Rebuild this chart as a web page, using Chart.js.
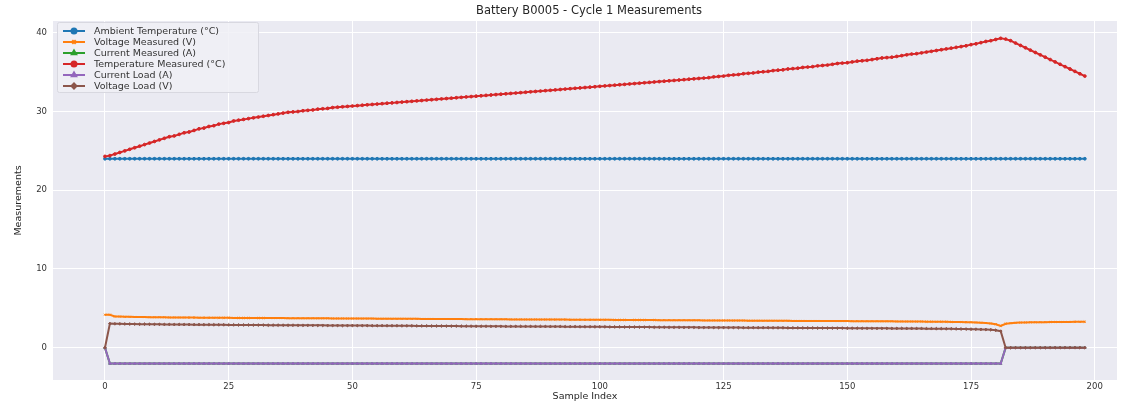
<!DOCTYPE html>
<html>
<head>
<meta charset="utf-8">
<script src="https://cdn.jsdelivr.net/npm/chart.js@4/dist/chart.umd.min.js"></script>
<style>
  html, body { margin: 0; padding: 0; background: #ffffff; }
  #wrap { width: 1130px; height: 402px; }
</style>
</head>
<body>
<div id="wrap"><canvas id="batteryChart" width="1130" height="402"></canvas></div>
<script>
const chartTitle = "Battery B0005 - Cycle 1 Measurements";
const seriesNames = [
  "Ambient Temperature (°C)",
  "Voltage Measured (V)",
  "Current Measured (A)",
  "Temperature Measured (°C)",
  "Current Load (A)",
  "Voltage Load (V)"
];
const xTicks = [0, 25, 50, 75, 100, 125, 150, 175, 200];
const yTicks = [0, 10, 20, 30, 40];

const ambientTemperature = [
  24, 24, 24, 24, 24, 24, 24, 24, 24, 24,
  24, 24, 24, 24, 24, 24, 24, 24, 24, 24,
  24, 24, 24, 24, 24, 24, 24, 24, 24, 24,
  24, 24, 24, 24, 24, 24, 24, 24, 24, 24,
  24, 24, 24, 24, 24, 24, 24, 24, 24, 24,
  24, 24, 24, 24, 24, 24, 24, 24, 24, 24,
  24, 24, 24, 24, 24, 24, 24, 24, 24, 24,
  24, 24, 24, 24, 24, 24, 24, 24, 24, 24,
  24, 24, 24, 24, 24, 24, 24, 24, 24, 24,
  24, 24, 24, 24, 24, 24, 24, 24, 24, 24,
  24, 24, 24, 24, 24, 24, 24, 24, 24, 24,
  24, 24, 24, 24, 24, 24, 24, 24, 24, 24,
  24, 24, 24, 24, 24, 24, 24, 24, 24, 24,
  24, 24, 24, 24, 24, 24, 24, 24, 24, 24,
  24, 24, 24, 24, 24, 24, 24, 24, 24, 24,
  24, 24, 24, 24, 24, 24, 24, 24, 24, 24,
  24, 24, 24, 24, 24, 24, 24, 24, 24, 24,
  24, 24, 24, 24, 24, 24, 24, 24, 24, 24,
  24, 24, 24, 24, 24, 24, 24, 24, 24, 24,
  24, 24, 24, 24, 24, 24, 24, 24, 24
];

const voltageMeasured = [
  4.19, 4.19, 3.97, 3.95, 3.93, 3.92, 3.91, 3.90, 3.89, 3.88,
  3.87, 3.87, 3.86, 3.85, 3.85, 3.84, 3.84, 3.83, 3.83, 3.82,
  3.82, 3.81, 3.81, 3.80, 3.80, 3.80, 3.79, 3.79, 3.78, 3.78,
  3.78, 3.77, 3.77, 3.77, 3.76, 3.76, 3.76, 3.75, 3.75, 3.75,
  3.74, 3.74, 3.74, 3.73, 3.73, 3.73, 3.72, 3.72, 3.72, 3.71,
  3.71, 3.71, 3.70, 3.70, 3.70, 3.69, 3.69, 3.69, 3.68, 3.68,
  3.68, 3.67, 3.67, 3.67, 3.66, 3.66, 3.66, 3.65, 3.65, 3.65,
  3.64, 3.64, 3.64, 3.63, 3.63, 3.63, 3.62, 3.62, 3.62, 3.61,
  3.61, 3.61, 3.60, 3.60, 3.60, 3.59, 3.59, 3.59, 3.58, 3.58,
  3.58, 3.57, 3.57, 3.57, 3.56, 3.56, 3.56, 3.55, 3.55, 3.55,
  3.54, 3.54, 3.54, 3.53, 3.53, 3.53, 3.52, 3.52, 3.52, 3.51,
  3.51, 3.51, 3.50, 3.50, 3.50, 3.49, 3.49, 3.49, 3.48, 3.48,
  3.48, 3.47, 3.47, 3.47, 3.46, 3.46, 3.46, 3.45, 3.45, 3.45,
  3.44, 3.44, 3.44, 3.43, 3.43, 3.43, 3.42, 3.42, 3.42, 3.41,
  3.41, 3.41, 3.40, 3.40, 3.40, 3.39, 3.39, 3.39, 3.38, 3.38,
  3.38, 3.37, 3.37, 3.37, 3.36, 3.36, 3.36, 3.35, 3.35, 3.35,
  3.34, 3.34, 3.33, 3.33, 3.32, 3.32, 3.31, 3.31, 3.30, 3.30,
  3.29, 3.28, 3.27, 3.26, 3.25, 3.23, 3.21, 3.18, 3.14, 3.08,
  2.98, 2.78, 3.05, 3.12, 3.16, 3.19, 3.21, 3.22, 3.23, 3.24,
  3.25, 3.26, 3.27, 3.27, 3.28, 3.28, 3.29, 3.29, 3.30
];

const currentMeasured = [
  -0.004, -2.01, -2.01, -2.01, -2.01, -2.01, -2.01, -2.01, -2.01, -2.01,
  -2.01, -2.01, -2.01, -2.01, -2.01, -2.01, -2.01, -2.01, -2.01, -2.01,
  -2.01, -2.01, -2.01, -2.01, -2.01, -2.01, -2.01, -2.01, -2.01, -2.01,
  -2.01, -2.01, -2.01, -2.01, -2.01, -2.01, -2.01, -2.01, -2.01, -2.01,
  -2.01, -2.01, -2.01, -2.01, -2.01, -2.01, -2.01, -2.01, -2.01, -2.01,
  -2.01, -2.01, -2.01, -2.01, -2.01, -2.01, -2.01, -2.01, -2.01, -2.01,
  -2.01, -2.01, -2.01, -2.01, -2.01, -2.01, -2.01, -2.01, -2.01, -2.01,
  -2.01, -2.01, -2.01, -2.01, -2.01, -2.01, -2.01, -2.01, -2.01, -2.01,
  -2.01, -2.01, -2.01, -2.01, -2.01, -2.01, -2.01, -2.01, -2.01, -2.01,
  -2.01, -2.01, -2.01, -2.01, -2.01, -2.01, -2.01, -2.01, -2.01, -2.01,
  -2.01, -2.01, -2.01, -2.01, -2.01, -2.01, -2.01, -2.01, -2.01, -2.01,
  -2.01, -2.01, -2.01, -2.01, -2.01, -2.01, -2.01, -2.01, -2.01, -2.01,
  -2.01, -2.01, -2.01, -2.01, -2.01, -2.01, -2.01, -2.01, -2.01, -2.01,
  -2.01, -2.01, -2.01, -2.01, -2.01, -2.01, -2.01, -2.01, -2.01, -2.01,
  -2.01, -2.01, -2.01, -2.01, -2.01, -2.01, -2.01, -2.01, -2.01, -2.01,
  -2.01, -2.01, -2.01, -2.01, -2.01, -2.01, -2.01, -2.01, -2.01, -2.01,
  -2.01, -2.01, -2.01, -2.01, -2.01, -2.01, -2.01, -2.01, -2.01, -2.01,
  -2.01, -2.01, -2.01, -2.01, -2.01, -2.01, -2.01, -2.01, -2.01, -2.01,
  -2.01, -2.01, 0.001, 0.001, 0.001, 0.001, 0.001, 0.001, 0.001, 0.001,
  0.001, 0.001, 0.001, 0.001, 0.001, 0.001, 0.001, 0.001, 0.001
];

const temperatureMeasured = [
  24.3, 24.4, 24.6, 24.8, 25.0, 25.2, 25.4, 25.6, 25.8, 26.0,
  26.2, 26.4, 26.6, 26.8, 26.9, 27.1, 27.3, 27.4, 27.6, 27.8,
  27.9, 28.1, 28.2, 28.4, 28.5, 28.6, 28.8, 28.9, 29.0, 29.1,
  29.2, 29.3, 29.4, 29.5, 29.6, 29.7, 29.8, 29.9, 29.95, 30.0,
  30.1, 30.15, 30.2, 30.3, 30.35, 30.4, 30.5, 30.55, 30.6, 30.65,
  30.7, 30.75, 30.8, 30.85, 30.9, 30.95, 31.0, 31.05, 31.1, 31.15,
  31.2, 31.25, 31.3, 31.35, 31.4, 31.45, 31.5, 31.55, 31.6, 31.65,
  31.7, 31.75, 31.8, 31.85, 31.9, 31.95, 32.0, 32.05, 32.1, 32.15,
  32.2, 32.25, 32.3, 32.35, 32.4, 32.45, 32.5, 32.55, 32.6, 32.65,
  32.7, 32.75, 32.8, 32.85, 32.9, 32.95, 33.0, 33.05, 33.1, 33.15,
  33.2, 33.25, 33.3, 33.35, 33.4, 33.45, 33.5, 33.55, 33.6, 33.65,
  33.7, 33.75, 33.8, 33.85, 33.9, 33.95, 34.0, 34.05, 34.1, 34.15,
  34.2, 34.25, 34.3, 34.4, 34.45, 34.5, 34.6, 34.65, 34.7, 34.8,
  34.85, 34.9, 35.0, 35.05, 35.1, 35.2, 35.25, 35.3, 35.4, 35.45,
  35.5, 35.6, 35.65, 35.7, 35.8, 35.85, 35.9, 36.0, 36.1, 36.15,
  36.2, 36.3, 36.4, 36.45, 36.5, 36.6, 36.7, 36.8, 36.85, 36.9,
  37.0, 37.1, 37.2, 37.3, 37.35, 37.45, 37.55, 37.65, 37.75, 37.85,
  37.95, 38.05, 38.15, 38.25, 38.35, 38.5, 38.6, 38.75, 38.9, 39.0,
  39.15, 39.3, 39.2, 39.0, 38.7, 38.4, 38.1, 37.8, 37.5, 37.2,
  36.9, 36.6, 36.3, 36.0, 35.7, 35.4, 35.1, 34.8, 34.5
];

const currentLoad = [
  -0.001, -2.0, -2.0, -2.0, -2.0, -2.0, -2.0, -2.0, -2.0, -2.0,
  -2.0, -2.0, -2.0, -2.0, -2.0, -2.0, -2.0, -2.0, -2.0, -2.0,
  -2.0, -2.0, -2.0, -2.0, -2.0, -2.0, -2.0, -2.0, -2.0, -2.0,
  -2.0, -2.0, -2.0, -2.0, -2.0, -2.0, -2.0, -2.0, -2.0, -2.0,
  -2.0, -2.0, -2.0, -2.0, -2.0, -2.0, -2.0, -2.0, -2.0, -2.0,
  -2.0, -2.0, -2.0, -2.0, -2.0, -2.0, -2.0, -2.0, -2.0, -2.0,
  -2.0, -2.0, -2.0, -2.0, -2.0, -2.0, -2.0, -2.0, -2.0, -2.0,
  -2.0, -2.0, -2.0, -2.0, -2.0, -2.0, -2.0, -2.0, -2.0, -2.0,
  -2.0, -2.0, -2.0, -2.0, -2.0, -2.0, -2.0, -2.0, -2.0, -2.0,
  -2.0, -2.0, -2.0, -2.0, -2.0, -2.0, -2.0, -2.0, -2.0, -2.0,
  -2.0, -2.0, -2.0, -2.0, -2.0, -2.0, -2.0, -2.0, -2.0, -2.0,
  -2.0, -2.0, -2.0, -2.0, -2.0, -2.0, -2.0, -2.0, -2.0, -2.0,
  -2.0, -2.0, -2.0, -2.0, -2.0, -2.0, -2.0, -2.0, -2.0, -2.0,
  -2.0, -2.0, -2.0, -2.0, -2.0, -2.0, -2.0, -2.0, -2.0, -2.0,
  -2.0, -2.0, -2.0, -2.0, -2.0, -2.0, -2.0, -2.0, -2.0, -2.0,
  -2.0, -2.0, -2.0, -2.0, -2.0, -2.0, -2.0, -2.0, -2.0, -2.0,
  -2.0, -2.0, -2.0, -2.0, -2.0, -2.0, -2.0, -2.0, -2.0, -2.0,
  -2.0, -2.0, -2.0, -2.0, -2.0, -2.0, -2.0, -2.0, -2.0, -2.0,
  -2.0, -2.0, 0.001, 0.001, 0.001, 0.001, 0.001, 0.001, 0.001, 0.001,
  0.001, 0.001, 0.001, 0.001, 0.001, 0.001, 0.001, 0.001, 0.001
];

const voltageLoad = [
  0.00, 3.06, 3.04, 3.03, 3.02, 3.01, 3.00, 2.99, 2.99, 2.98,
  2.97, 2.97, 2.96, 2.96, 2.95, 2.95, 2.94, 2.94, 2.93, 2.93,
  2.92, 2.92, 2.91, 2.91, 2.91, 2.90, 2.90, 2.89, 2.89, 2.89,
  2.88, 2.88, 2.88, 2.87, 2.87, 2.87, 2.86, 2.86, 2.86, 2.85,
  2.85, 2.85, 2.84, 2.84, 2.84, 2.83, 2.83, 2.83, 2.82, 2.82,
  2.82, 2.81, 2.81, 2.81, 2.80, 2.80, 2.80, 2.79, 2.79, 2.79,
  2.78, 2.78, 2.78, 2.77, 2.77, 2.77, 2.76, 2.76, 2.76, 2.75,
  2.75, 2.75, 2.74, 2.74, 2.74, 2.73, 2.73, 2.73, 2.72, 2.72,
  2.72, 2.71, 2.71, 2.71, 2.70, 2.70, 2.70, 2.69, 2.69, 2.69,
  2.68, 2.68, 2.68, 2.67, 2.67, 2.67, 2.66, 2.66, 2.66, 2.65,
  2.65, 2.65, 2.64, 2.64, 2.64, 2.63, 2.63, 2.63, 2.62, 2.62,
  2.62, 2.61, 2.61, 2.61, 2.60, 2.60, 2.60, 2.59, 2.59, 2.59,
  2.58, 2.58, 2.58, 2.57, 2.57, 2.57, 2.56, 2.56, 2.56, 2.55,
  2.55, 2.55, 2.54, 2.54, 2.54, 2.53, 2.53, 2.53, 2.52, 2.52,
  2.52, 2.51, 2.51, 2.51, 2.50, 2.50, 2.50, 2.49, 2.49, 2.49,
  2.48, 2.48, 2.48, 2.47, 2.47, 2.47, 2.46, 2.46, 2.46, 2.45,
  2.45, 2.45, 2.44, 2.44, 2.43, 2.43, 2.42, 2.42, 2.41, 2.41,
  2.40, 2.40, 2.39, 2.38, 2.37, 2.36, 2.35, 2.33, 2.31, 2.28,
  2.22, 2.10, 0.00, 0.00, 0.00, 0.00, 0.00, 0.00, 0.00, 0.00,
  0.00, 0.00, 0.00, 0.00, 0.00, 0.00, 0.00, 0.00, 0.00
];

const sampleIndex = voltageMeasured.map((_, i) => i);

const seriesValues = [ambientTemperature, voltageMeasured, currentMeasured, temperatureMeasured, currentLoad, voltageLoad];
const seriesColors = ["#1f77b4", "#ff7f0e", "#2ca02c", "#d62728", "#9467bd", "#8c564b"];
const seriesMarkers = ["circle", "crossRot", "triangle", "circle", "triangle", "rectRot"];

// seaborn "darkgrid" look: grey plot area with white grid
const plotBackground = {
  id: "plotBackground",
  beforeDraw(chart) {
    const { ctx, chartArea } = chart;
    ctx.save();
    ctx.fillStyle = "#eaeaf2";
    ctx.fillRect(chartArea.left, chartArea.top, chartArea.right - chartArea.left, chartArea.bottom - chartArea.top);
    ctx.restore();
  }
};

// title centred over the axes (matplotlib style), and legend inside the plot
const axesTitle = {
  id: "axesTitle",
  afterDraw(chart) {
    const { ctx, chartArea } = chart;
    ctx.save();
    ctx.font = "11.5px 'DejaVu Sans'";
    ctx.fillStyle = "#262626";
    ctx.textAlign = "center";
    ctx.textBaseline = "middle";
    ctx.fillText(chartTitle, (chartArea.left + chartArea.right) / 2 + 4, 11);
    ctx.restore();
  }
};

const insideLegend = {
  id: "insideLegend",
  afterDraw(chart) {
    const { ctx, chartArea } = chart;
    const x0 = chartArea.left + 4;
    const y0 = chartArea.top + 1;
    const rowH = 11;
    ctx.save();
    ctx.fillStyle = "rgba(240, 240, 246, 0.85)";
    ctx.strokeStyle = "#d8d8e0";
    ctx.lineWidth = 1;
    ctx.beginPath();
    ctx.roundRect(x0 + 0.5, y0 + 0.5, 201, 70, 2);
    ctx.fill();
    ctx.stroke();
    ctx.font = "9.5px 'DejaVu Sans'";
    ctx.textBaseline = "middle";
    chart.data.datasets.forEach((ds, i) => {
      const cy = y0 + 9 + i * rowH;
      ctx.strokeStyle = ds.borderColor;
      ctx.fillStyle = ds.borderColor;
      ctx.lineWidth = 2;
      ctx.beginPath();
      ctx.moveTo(x0 + 6, cy);
      ctx.lineTo(x0 + 28, cy);
      ctx.stroke();
      Chart.helpers.drawPoint(ctx, { pointStyle: ds.pointStyle, radius: 2.5, borderWidth: 1 }, x0 + 17, cy);
      ctx.fillStyle = "#333";
      ctx.fillText(ds.label, x0 + 37, cy + 0.5);
    });
    ctx.restore();
  }
};

const datasets = seriesNames.map((name, i) => ({
  label: name,
  data: seriesValues[i],
  borderColor: seriesColors[i],
  backgroundColor: seriesColors[i],
  borderWidth: 2,
  pointStyle: seriesMarkers[i],
  pointRadius: 1.4,
  pointBorderWidth: 1,
  tension: 0,
  order: seriesNames.length - i
}));

new Chart(document.getElementById("batteryChart"), {
  type: "line",
  data: { labels: sampleIndex, datasets },
  plugins: [plotBackground, axesTitle, insideLegend],
  options: {
    responsive: false,
    animation: false,
    devicePixelRatio: 1,
    layout: { padding: { left: 0, right: 13, top: 21, bottom: 0 } },
    plugins: {
      legend: { display: false },
      tooltip: { enabled: false },
      title: { display: false }
    },
    scales: {
      x: {
        type: "linear",
        min: -10.5,
        max: 204.5,
        afterFit(scale) { scale.height = 22; },
        afterBuildTicks(scale) { scale.ticks = xTicks.map((v) => ({ value: v })); },
        ticks: { color: "#333", font: { family: "DejaVu Sans", size: 8.5 }, padding: 2 },
        grid: { color: "#ffffff", lineWidth: 1, drawTicks: false },
        border: { display: false },
        title: { display: true, text: "Sample Index", color: "#262626", font: { family: "DejaVu Sans", size: 9.5 }, padding: 0 }
      },
      y: {
        min: -4.1,
        max: 41.5,
        afterFit(scale) { scale.width = 53; },
        afterBuildTicks(scale) { scale.ticks = yTicks.map((v) => ({ value: v })); },
        ticks: { color: "#333", font: { family: "DejaVu Sans", size: 8.5 }, padding: 6 },
        grid: { color: "#ffffff", lineWidth: 1, drawTicks: false },
        border: { display: false },
        title: { display: true, text: "Measurements", color: "#262626", font: { family: "DejaVu Sans", size: 9.5 }, padding: { top: 13, bottom: 0 } }
      }
    }
  }
});
</script>
</body>
</html>
